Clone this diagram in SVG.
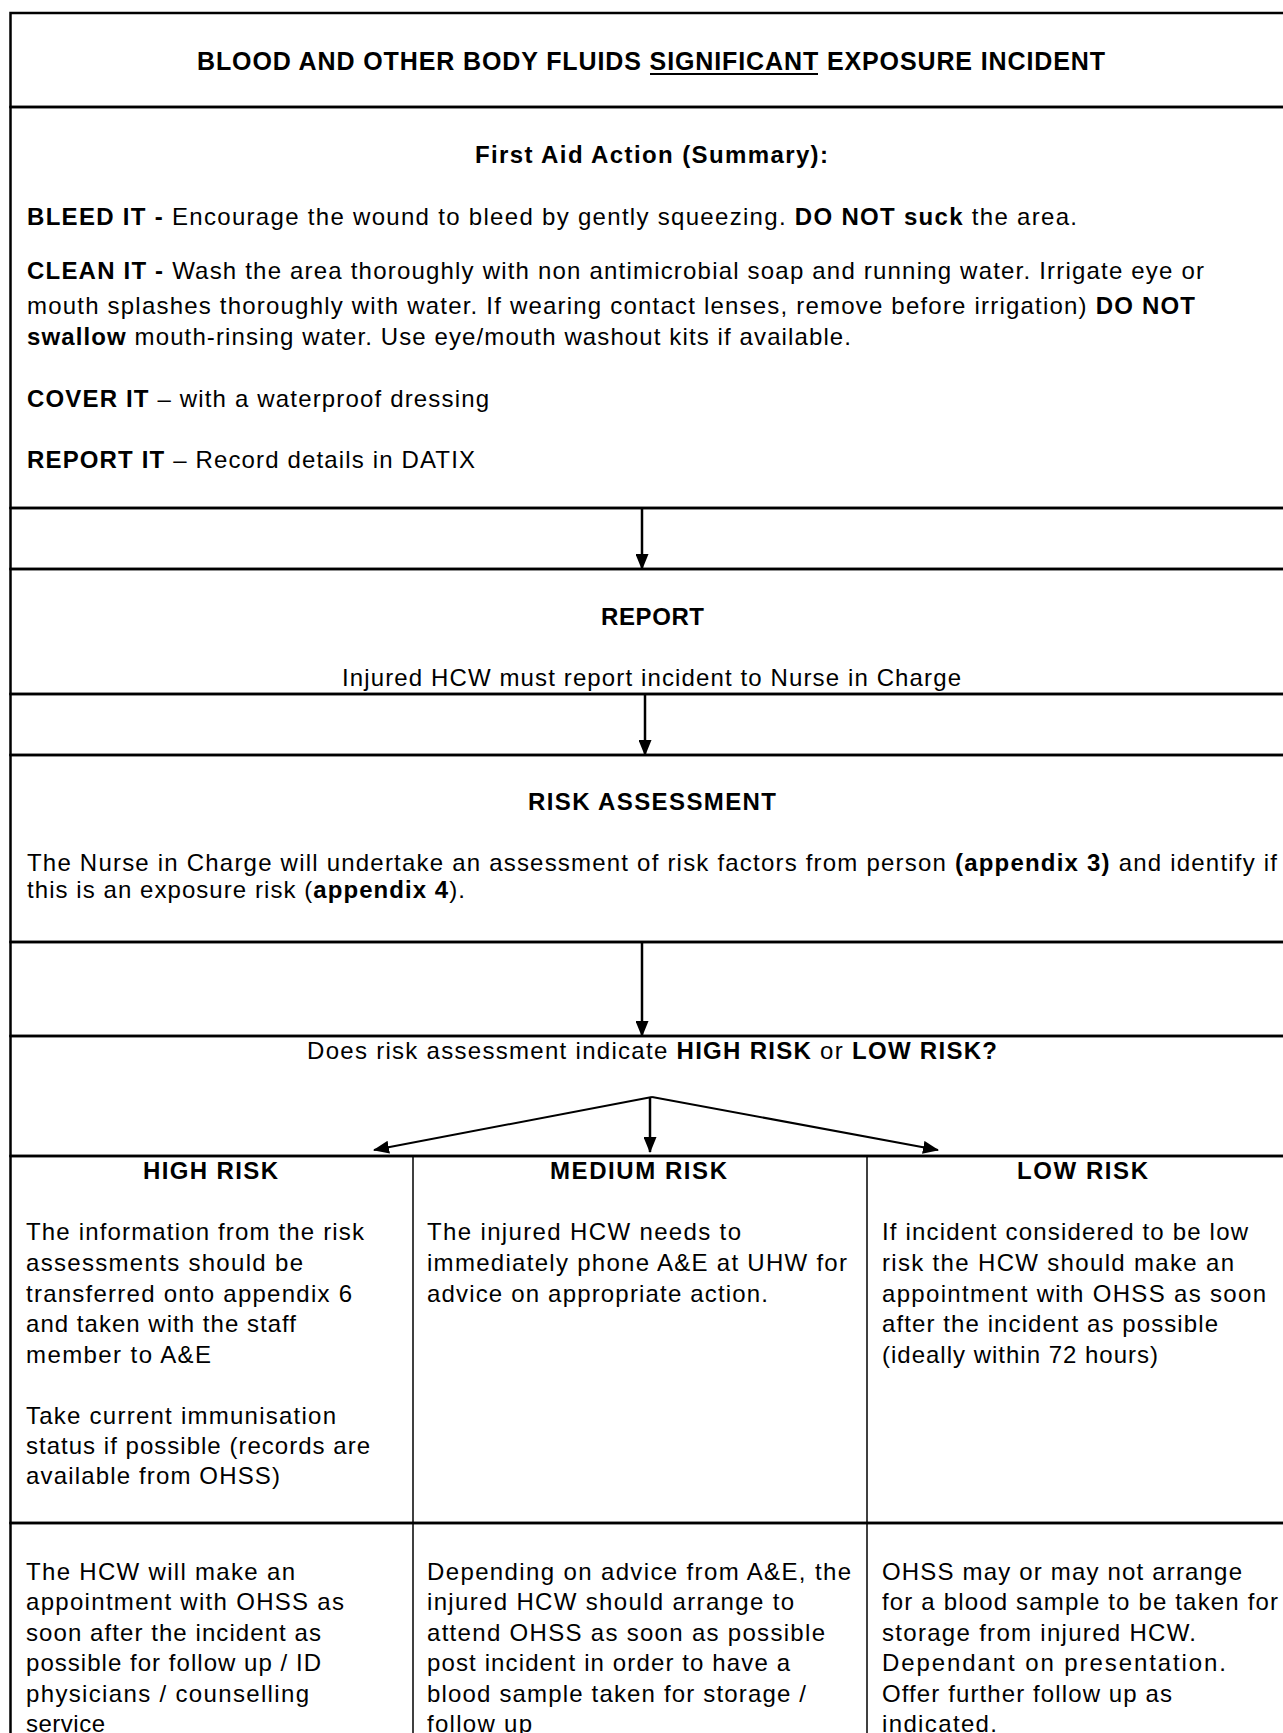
<svg xmlns="http://www.w3.org/2000/svg" width="1283" height="1733" viewBox="0 0 1283 1733">
<style>
text{font-family:"Liberation Sans",Arial,sans-serif;font-size:24px;fill:#000;}
.t{font-size:25px;font-weight:bold;}
.h{font-weight:bold;}
.b{font-weight:bold;}
.bd{stroke:#000;stroke-width:2.5;fill:none;}
.vd{stroke:#000;stroke-width:1.5;fill:none;}
.ar{stroke:#000;stroke-width:2.5;fill:none;marker-end:url(#ah);}
.af{stroke:#000;stroke-width:2;fill:none;marker-end:url(#ah);}
</style>
<defs>
<marker id="ah" markerUnits="userSpaceOnUse" markerWidth="16" markerHeight="13" refX="15" refY="6.5" orient="auto">
<path d="M0,0 L16,6.5 L0,13 z" fill="#000"/>
</marker>
</defs>
<rect width="1283" height="1733" fill="#fff"/>

<g id="title">
<rect class="bd" x="10.5" y="13" width="1289" height="94"/>
<text class="t" x="197" y="70" textLength="908" lengthAdjust="spacing">BLOOD AND OTHER BODY FLUIDS <tspan>SIGNIFICANT</tspan> EXPOSURE INCIDENT</text>
<line x1="650" y1="74" x2="818" y2="74" stroke="#000" stroke-width="2"/>
</g>

<g id="first-aid">
<rect class="bd" x="10.5" y="107" width="1289" height="401"/>
<text class="h" x="475" y="163" textLength="353" lengthAdjust="spacing">First Aid Action (Summary):</text>
<text x="27" y="225" textLength="1050" lengthAdjust="spacing"><tspan class="b">BLEED IT - </tspan>Encourage the wound to bleed by gently squeezing. <tspan class="b">DO NOT suck</tspan> the area.</text>
<text x="27" y="279" textLength="1177" lengthAdjust="spacing"><tspan class="b">CLEAN IT - </tspan>Wash the area thoroughly with non antimicrobial soap and running water. Irrigate eye or</text>
<text x="27" y="314" textLength="1168" lengthAdjust="spacing">mouth splashes thoroughly with water. If wearing contact lenses, remove before irrigation) <tspan class="b">DO NOT</tspan></text>
<text x="27" y="345" textLength="824" lengthAdjust="spacing"><tspan class="b">swallow</tspan> mouth-rinsing water. Use eye/mouth washout kits if available.</text>
<text x="27" y="407" textLength="462" lengthAdjust="spacing"><tspan class="b">COVER IT</tspan> – with a waterproof dressing</text>
<text x="27" y="468" textLength="448" lengthAdjust="spacing"><tspan class="b">REPORT IT</tspan> – Record details in DATIX</text>
</g>

<g id="gap1"><rect class="bd" x="10.5" y="508" width="1289" height="61"/></g>

<g id="report">
<rect class="bd" x="10.5" y="569" width="1289" height="125"/>
<text class="h" x="601" y="625" textLength="103" lengthAdjust="spacing">REPORT</text>
<text x="342" y="686" textLength="619" lengthAdjust="spacing">Injured HCW must report incident to Nurse in Charge</text>
</g>

<g id="gap2"><rect class="bd" x="10.5" y="694" width="1289" height="61"/></g>

<g id="risk-assessment">
<rect class="bd" x="10.5" y="755" width="1289" height="187"/>
<text class="h" x="528" y="810" textLength="248" lengthAdjust="spacing">RISK ASSESSMENT</text>
<text x="27" y="871" textLength="1250" lengthAdjust="spacing">The Nurse in Charge will undertake an assessment of risk factors from person <tspan class="b">(appendix 3)</tspan> and identify if</text>
<text x="27" y="898" textLength="438" lengthAdjust="spacing">this is an exposure risk (<tspan class="b">appendix 4</tspan>).</text>
</g>

<g id="gap3"><rect class="bd" x="10.5" y="942" width="1289" height="94"/></g>

<g id="decision">
<rect class="bd" x="10.5" y="1036" width="1289" height="120"/>
<text x="307" y="1059" textLength="690" lengthAdjust="spacing">Does risk assessment indicate <tspan class="b">HIGH RISK</tspan> or <tspan class="b">LOW RISK?</tspan></text>
</g>

<g id="high-risk">
<rect class="bd" x="10.5" y="1156" width="1289" height="367"/>
<text class="h" x="143" y="1179" textLength="135" lengthAdjust="spacing">HIGH RISK</text>
<text x="26" y="1240" textLength="338" lengthAdjust="spacing">The information from the risk</text>
<text x="26" y="1271" textLength="277" lengthAdjust="spacing">assessments should be</text>
<text x="26" y="1302" textLength="326" lengthAdjust="spacing">transferred onto appendix 6</text>
<text x="26" y="1332" textLength="270" lengthAdjust="spacing">and taken with the staff</text>
<text x="26" y="1363" textLength="185" lengthAdjust="spacing">member to A&amp;E</text>
<text x="26" y="1424" textLength="310" lengthAdjust="spacing">Take current immunisation</text>
<text x="26" y="1454" textLength="344" lengthAdjust="spacing">status if possible (records are</text>
<text x="26" y="1484" textLength="254" lengthAdjust="spacing">available from OHSS)</text>
</g>

<g id="medium-risk">
<text class="h" x="550" y="1179" textLength="177" lengthAdjust="spacing">MEDIUM RISK</text>
<text x="427" y="1240" textLength="314" lengthAdjust="spacing">The injured HCW needs to</text>
<text x="427" y="1271" textLength="420" lengthAdjust="spacing">immediately phone A&amp;E at UHW for</text>
<text x="427" y="1302" textLength="341" lengthAdjust="spacing">advice on appropriate action.</text>
</g>

<g id="low-risk">
<text class="h" x="1017" y="1179" textLength="131" lengthAdjust="spacing">LOW RISK</text>
<text x="882" y="1240" textLength="366" lengthAdjust="spacing">If incident considered to be low</text>
<text x="882" y="1271" textLength="352" lengthAdjust="spacing">risk the HCW should make an</text>
<text x="882" y="1302" textLength="384" lengthAdjust="spacing">appointment with OHSS as soon</text>
<text x="882" y="1332" textLength="336" lengthAdjust="spacing">after the incident as possible</text>
<text x="882" y="1363" textLength="276" lengthAdjust="spacing">(ideally within 72 hours)</text>
</g>

<g id="high-follow">
<rect class="bd" x="10.5" y="1523" width="1289" height="240"/>
<text x="26" y="1580" textLength="269" lengthAdjust="spacing">The HCW will make an</text>
<text x="26" y="1610" textLength="318" lengthAdjust="spacing">appointment with OHSS as</text>
<text x="26" y="1641" textLength="295" lengthAdjust="spacing">soon after the incident as</text>
<text x="26" y="1671" textLength="295" lengthAdjust="spacing">possible for follow up / ID</text>
<text x="26" y="1702" textLength="283" lengthAdjust="spacing">physicians / counselling</text>
<text x="26" y="1732" textLength="79" lengthAdjust="spacing">service</text>
</g>

<g id="medium-follow">
<text x="427" y="1580" textLength="424" lengthAdjust="spacing">Depending on advice from A&amp;E, the</text>
<text x="427" y="1610" textLength="367" lengthAdjust="spacing">injured HCW should arrange to</text>
<text x="427" y="1641" textLength="398" lengthAdjust="spacing">attend OHSS as soon as possible</text>
<text x="427" y="1671" textLength="363" lengthAdjust="spacing">post incident in order to have a</text>
<text x="427" y="1702" textLength="379" lengthAdjust="spacing">blood sample taken for storage /</text>
<text x="427" y="1732" textLength="105" lengthAdjust="spacing">follow up</text>
</g>

<g id="low-follow">
<text x="882" y="1580" textLength="360" lengthAdjust="spacing">OHSS may or may not arrange</text>
<text x="882" y="1610" textLength="396" lengthAdjust="spacing">for a blood sample to be taken for</text>
<text x="882" y="1641" textLength="314" lengthAdjust="spacing">storage from injured HCW.</text>
<text x="882" y="1671" textLength="344" lengthAdjust="spacing">Dependant on presentation.</text>
<text x="882" y="1702" textLength="290" lengthAdjust="spacing">Offer further follow up as</text>
<text x="882" y="1732" textLength="115" lengthAdjust="spacing">indicated.</text>
</g>

<g id="column-dividers">
<line class="vd" x1="413" y1="1156" x2="413" y2="1763"/>
<line class="vd" x1="867" y1="1156" x2="867" y2="1763"/>
</g>

<g id="connectors">
<line class="ar" x1="642" y1="508" x2="642" y2="569"/>
<line class="ar" x1="645" y1="694" x2="645" y2="755"/>
<line class="ar" x1="642" y1="942" x2="642" y2="1036"/>
<line class="af" x1="652" y1="1097" x2="374" y2="1150"/>
<line class="ar" x1="650" y1="1097" x2="650" y2="1152"/>
<line class="af" x1="652" y1="1097" x2="938" y2="1150"/>
</g>
</svg>
